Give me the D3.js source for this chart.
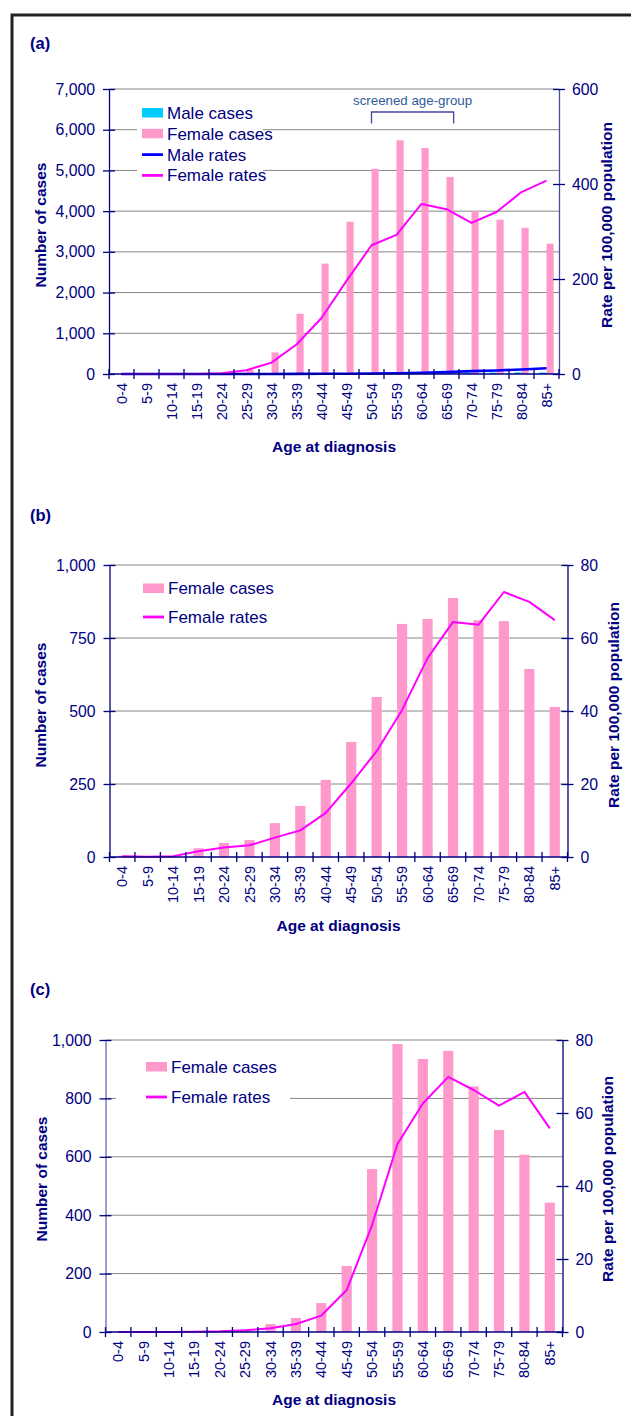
<!DOCTYPE html>
<html><head><meta charset="utf-8">
<script src="https://cdn.jsdelivr.net/npm/d3@7"></script>
<style>
body{margin:0;background:#fff;}
svg{display:block;font-family:"Liberation Sans",Arial,sans-serif;}
</style></head><body>
<svg id="chart" width="631" height="1416"></svg>
<script>
// ---------- DATA ----------
const ageGroups = ["0-4","5-9","10-14","15-19","20-24","25-29","30-34","35-39","40-44","45-49","50-54","55-59","60-64","65-69","70-74","75-79","80-84","85+"];

// Panel (a)
const maleCasesA   = [0,0,0,0,0,0,1,2,3,5,8,10,15,20,30,35,40,38];
const femaleCasesA = [0,0,0,2,15,110,530,1480,2710,3740,5040,5740,5550,4840,4000,3790,3590,3200];
const maleRatesA   = [0,0,0,0,0,0,0,0.2,0.4,0.6,1,1.5,2.5,4,6,7.5,9.5,12];
const femaleRatesA = [0,0,0,0.1,1.5,8,24,62,118,196,271,293,358,347,318,341,383,407];
const casesTicksA  = [0,1000,2000,3000,4000,5000,6000,7000];
const rateTicksA   = [0,200,400,600];

// Panel (b)
const femaleCasesB = [4,1,1,30,48,58,116,175,264,394,548,798,815,887,811,808,644,514];
const femaleRatesB = [0.2,0.1,0.2,1.6,2.6,3.2,5.3,7.3,12.1,20.2,29,40.3,54.5,64.4,63.6,72.6,69.9,64.9];
const casesTicksB  = [0,250,500,750,1000];
const rateTicksB   = [0,20,40,60,80];

// Panel (c)
const femaleCasesC = [0,0,0,1,2,5,27,48,99,226,558,986,935,963,841,692,607,443];
const femaleRatesC = [0,0,0,0.1,0.2,0.5,1.0,2.2,4.5,11.5,29.3,51.5,62.6,69.9,66.3,62.0,65.8,55.8];
const casesTicksC  = [0,200,400,600,800,1000];
const rateTicksC   = [0,20,40,60,80];

const panelLabels = ["(a)","(b)","(c)"];
const screenedLabel = "screened age-group";
const screenedRange = ["50-54","65-69"];
const xTitle = "Age at diagnosis";
const yLeftTitle = "Number of cases";
const yRightTitle = "Rate per 100,000 population";
const legendNames = {maleCases:"Male cases", femaleCases:"Female cases", maleRates:"Male rates", femaleRates:"Female rates"};

// ---------- STYLE ----------
const NAVY = "#000080";
const PINK = "#FF99CC";
const CYAN = "#00CCFF";
const MAGENTA = "#FF00FF";
const BLUE = "#0000FF";
const GRID = "#868686";

const svg = d3.select("#chart");

// outer frame
svg.append("rect").attr("x",12).attr("y",15).attr("width",700).attr("height",1500)
  .attr("fill","none").attr("stroke","#222").attr("stroke-width",3);

function fmt(v){ return d3.format(",")(v); }

function drawPanel(cfg){
  const g = svg.append("g");
  const x = d3.scaleBand().domain(ageGroups).range([cfg.left, cfg.right]).paddingInner(0).paddingOuter(0);
  const yL = d3.scaleLinear().domain([cfg.casesTicks[0], cfg.casesTicks[cfg.casesTicks.length-1]]).range([cfg.bottom, cfg.top]);
  const yR = d3.scaleLinear().domain([cfg.rateTicks[0], cfg.rateTicks[cfg.rateTicks.length-1]]).range([cfg.bottom, cfg.top]);

  // panel label
  g.append("text").attr("x",cfg.labelX).attr("y",cfg.labelY).attr("fill",NAVY)
    .attr("font-size","16.5px").attr("font-weight","bold").text(cfg.label);

  // gridlines
  g.append("g").selectAll("line").data(cfg.casesTicks.filter(v=>v>0)).join("line")
    .attr("x1",cfg.left).attr("x2",cfg.right)
    .attr("y1",d=>yL(d)).attr("y2",d=>yL(d))
    .attr("stroke",GRID).attr("stroke-width",1);

  // bars
  const bw = x.bandwidth();
  const nSeries = cfg.series.filter(s=>s.type==="bar").length;
  const barW = bw/(nSeries+1.5);
  let bi = 0;
  cfg.series.filter(s=>s.type==="bar").forEach(s=>{
    const off = bw/2 - (nSeries*barW)/2 + bi*barW;
    g.append("g").selectAll("rect").data(s.values).join("rect")
      .attr("x",(d,i)=>x(ageGroups[i]) + off)
      .attr("width",barW)
      .attr("y",d=>yL(d))
      .attr("height",d=>yL(0)-yL(d))
      .attr("fill",s.color);
    bi++;
  });

  // lines
  cfg.series.filter(s=>s.type==="line").forEach(s=>{
    const line = d3.line().x((d,i)=>x(ageGroups[i])+bw/2).y(d=>yR(d));
    g.append("path").datum(s.values).attr("d",line)
      .attr("fill","none").attr("stroke",s.color).attr("stroke-width",s.width)
      .attr("stroke-linejoin","round");
  });

  // axes
  const leftAxis = d3.axisLeft(yL).tickValues(cfg.casesTicks).tickFormat(fmt).tickSizeInner(6).tickSizeOuter(0).tickPadding(8);
  const ga = g.append("g").attr("transform",`translate(${cfg.left},0)`).call(leftAxis);
  ga.select(".domain").attr("stroke",cfg.leftAxisColor||NAVY).attr("stroke-width",1.3);
  ga.selectAll(".tick line").attr("x2",6).attr("x1",-6).attr("stroke",NAVY).attr("stroke-width",1.3);
  ga.selectAll(".tick text").attr("fill",NAVY).attr("font-size","15.8px").attr("font-family","Liberation Sans, Arial, sans-serif").attr("x",-14);

  const rightAxis = d3.axisRight(yR).tickValues(cfg.rateTicks).tickSizeInner(6).tickSizeOuter(0).tickPadding(8);
  const gr = g.append("g").attr("transform",`translate(${cfg.right},0)`).call(rightAxis);
  gr.select(".domain").attr("stroke",cfg.rightAxisColor||NAVY).attr("stroke-width",1.3);
  gr.selectAll(".tick line").attr("x1",-6).attr("x2",6).attr("stroke",NAVY).attr("stroke-width",1.3);
  gr.selectAll(".tick text").attr("fill",NAVY).attr("font-size","15.8px").attr("font-family","Liberation Sans, Arial, sans-serif").attr("x",13);

  // x axis
  const gx = g.append("g").attr("transform",`translate(0,${cfg.bottom})`);
  gx.append("line").attr("x1",cfg.left).attr("x2",cfg.right).attr("stroke",NAVY).attr("stroke-width",1.3);
  const bounds = ageGroups.map(a=>x(a)).concat([cfg.right]);
  gx.selectAll("line.tk").data(bounds).join("line").attr("class","tk")
    .attr("x1",d=>d).attr("x2",d=>d).attr("y1",-5).attr("y2",5)
    .attr("stroke",NAVY).attr("stroke-width",1.3);
  gx.selectAll("text").data(ageGroups).join("text")
    .attr("transform",d=>`translate(${x(d)+bw/2},9) rotate(-90)`)
    .attr("text-anchor","end").attr("dy","0.35em")
    .attr("fill",NAVY).attr("font-size","14.5px").text(d=>d);

  // titles
  g.append("text").attr("transform",`translate(${cfg.leftTitleX},${cfg.titleCY}) rotate(-90)`)
    .attr("text-anchor","middle").attr("dy","0.35em").attr("fill",NAVY)
    .attr("font-size","15.5px").attr("font-weight","bold").text(yLeftTitle);
  g.append("text").attr("transform",`translate(${cfg.rightTitleX},${cfg.titleCY}) rotate(-90)`)
    .attr("text-anchor","middle").attr("dy","0.35em").attr("fill",NAVY)
    .attr("font-size","15.5px").attr("font-weight","bold").text(yRightTitle);
  g.append("text").attr("x",(cfg.left+cfg.right)/2).attr("y",cfg.xTitleY).attr("dy","0.35em")
    .attr("text-anchor","middle").attr("fill",NAVY)
    .attr("font-size","15.5px").attr("font-weight","bold").text(xTitle);

  // screened bracket
  if(cfg.screened){
    const x1 = x(screenedRange[0]) + bw/2 - (nSeries*barW)/2 + (nSeries-1)*barW;
    const x2 = x(screenedRange[1]) + bw/2 + (nSeries*barW)/2;
    const by = cfg.screened.y, bh = cfg.screened.h;
    g.append("path").attr("d",`M${x1},${by+bh}V${by}H${x2}V${by+bh}`)
      .attr("fill","none").attr("stroke","#4444A0").attr("stroke-width",1.3);
    g.append("text").attr("x",(x1+x2)/2).attr("y",by-7)
      .attr("text-anchor","middle").attr("fill","#2E5C9A").attr("font-size","13.3px").text(screenedLabel);
  }

  // legend
  const L = cfg.legend;
  g.append("rect").attr("x",L.box[0]).attr("y",L.box[1]).attr("width",L.box[2]).attr("height",L.box[3]).attr("fill","#fff");
  cfg.series.forEach((s,i)=>{
    const cy = L.y0 + i*L.dy;
    if(s.type==="bar"){
      g.append("rect").attr("x",L.x).attr("y",cy-5).attr("width",21).attr("height",9.5).attr("fill",s.color);
    } else {
      g.append("line").attr("x1",L.x).attr("x2",L.x+21).attr("y1",cy).attr("y2",cy)
        .attr("stroke",s.color).attr("stroke-width",2.8);
    }
    g.append("text").attr("x",L.x+25).attr("y",cy).attr("dy","0.35em")
      .attr("fill",NAVY).attr("font-size","17px").text(s.name);
  });
}

drawPanel({
  label:panelLabels[0], labelX:30, labelY:49,
  left:109, right:559, top:89, bottom:374,
  casesTicks:casesTicksA, rateTicks:rateTicksA,
  rightAxisColor:"#4B4BA0",
  leftTitleX:41, rightTitleX:607, titleCY:225, xTitleY:447,
  series:[
    {type:"bar", name:legendNames.maleCases, values:maleCasesA, color:CYAN},
    {type:"bar", name:legendNames.femaleCases, values:femaleCasesA, color:PINK},
    {type:"line", name:legendNames.maleRates, values:maleRatesA, color:BLUE, width:2.6},
    {type:"line", name:legendNames.femaleRates, values:femaleRatesA, color:MAGENTA, width:2}
  ],
  screened:{y:112, h:11.5},
  legend:{box:[137,99,126,88], x:142, y0:113, dy:20.8}
});

drawPanel({
  label:panelLabels[1], labelX:30, labelY:521,
  left:109.5, right:567.5, top:565, bottom:857,
  casesTicks:casesTicksB, rateTicks:rateTicksB,
  leftTitleX:41, rightTitleX:614, titleCY:705, xTitleY:926,
  series:[
    {type:"bar", name:legendNames.femaleCases, values:femaleCasesB, color:PINK},
    {type:"line", name:legendNames.femaleRates, values:femaleRatesB, color:MAGENTA, width:2}
  ],
  legend:{box:[137,574,140,56], x:143, y0:588.5, dy:28.5}
});

drawPanel({
  label:panelLabels[2], labelX:30, labelY:995,
  left:105.5, right:562.5, top:1040, bottom:1332,
  casesTicks:casesTicksC, rateTicks:rateTicksC,
  leftAxisColor:"#6A6AB0",
  leftTitleX:42, rightTitleX:608, titleCY:1179, xTitleY:1400,
  series:[
    {type:"bar", name:legendNames.femaleCases, values:femaleCasesC, color:PINK},
    {type:"line", name:legendNames.femaleRates, values:femaleRatesC, color:MAGENTA, width:2}
  ],
  legend:{box:[116,1052,174,58], x:146, y0:1067, dy:30}
});
</script>
</body></html>
